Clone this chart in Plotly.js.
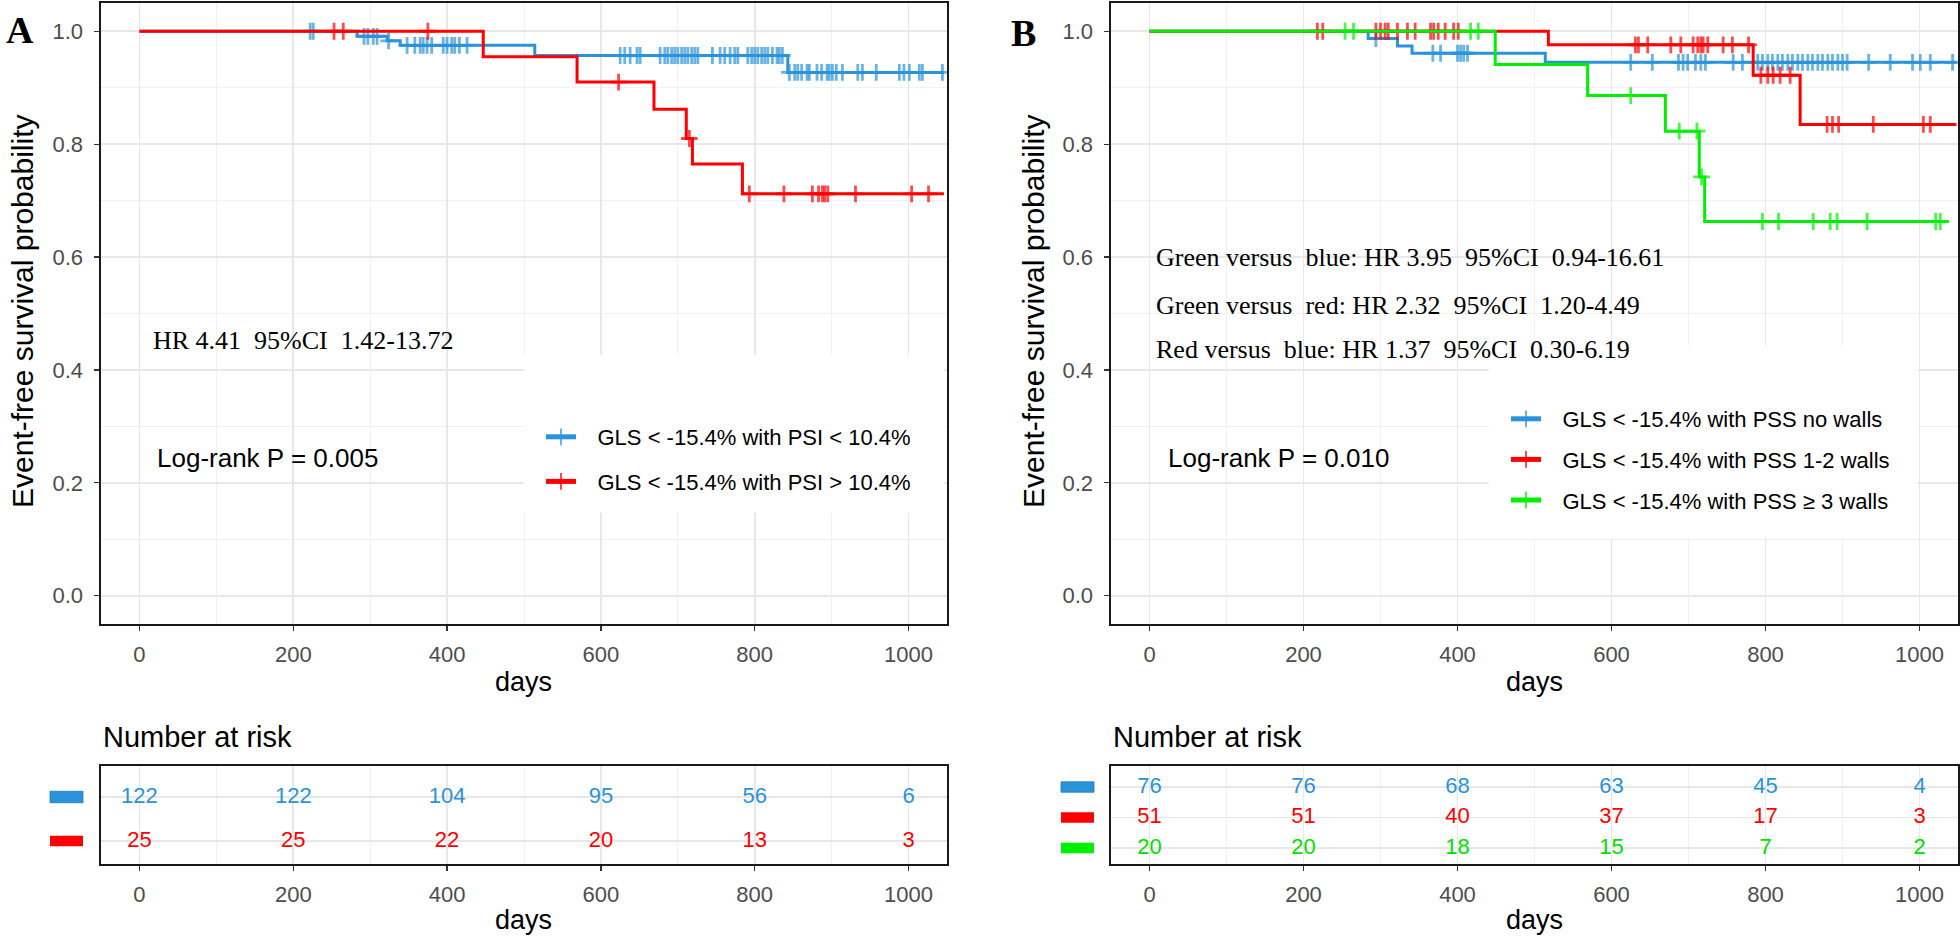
<!DOCTYPE html>
<html>
<head>
<meta charset="utf-8">
<script src="https://cdn.plot.ly/plotly-3.0.1.min.js"></script>
<style>html,body{margin:0;padding:0;background:#fff;}#chart{width:1960px;height:938px;}</style>
</head>
<body>
<div id="chart"></div>
<script>
// ---------------- DATA ----------------
// Panel A : GLS < -15.4% with PSI < 10.4% (blue)  /  PSI > 10.4% (red)
const A_blue_name = "GLS < -15.4% with PSI < 10.4%";
const A_blue_stepDays = [283, 322, 339, 514, 843];
const A_blue_stepSurv = [0.991, 0.983, 0.975, 0.957, 0.927];
const A_blue_censDays = [222, 226, 292, 297, 304, 309, 324, 348, 358, 365, 369, 374, 380, 395, 400, 406, 410, 416, 426,
  625, 631, 638, 647, 651, 677, 683, 687, 692, 696, 700, 705, 709, 713, 718, 722, 726, 745, 755, 761, 768, 774, 778,
  791, 796, 800, 804, 809, 813, 817, 823, 829, 832, 836,
  845, 852, 856, 861, 868, 871, 881, 887, 894, 897, 901, 906, 914, 934, 940, 958, 988, 994, 1001, 1014, 1018, 1044];
const A_blue_endDay = 1046;

const A_red_name = "GLS < -15.4% with PSI > 10.4%";
const A_red_stepDays = [447, 569, 669, 711, 719, 784];
const A_red_stepSurv = [0.955, 0.910, 0.862, 0.810, 0.765, 0.712];
const A_red_censDays = [253, 265, 375, 623, 715, 793, 838, 875, 883, 888, 891, 895, 931, 1004, 1026];
const A_red_endDay = 1046;

// Panel B : PSS no walls (blue) / 1-2 walls (red) / >= 3 walls (green)
const B_blue_name = "GLS < -15.4% with PSS no walls";
const B_blue_stepDays = [284, 322, 341, 514];
const B_blue_stepSurv = [0.987, 0.974, 0.961, 0.945];
const B_blue_censDays = [294, 368, 378, 400, 404, 408, 413,
  625, 653, 687, 693, 699, 709, 716, 722, 758, 770, 790, 796, 803, 809, 816, 822, 829, 835, 842, 848, 855, 861, 868,
  874, 881, 887, 894, 900, 906, 934, 962, 991, 1001, 1014, 1043];
const B_blue_endDay = 1048;

const B_red_name = "GLS < -15.4% with PSS 1-2 walls";
const B_red_stepDays = [518, 784, 845];
const B_red_stepSurv = [0.976, 0.922, 0.835];
const B_red_censDays = [218, 225, 294, 300, 306, 310, 322, 335, 345, 365, 369, 375, 384, 395, 401,
  631, 635, 647, 677, 690, 706, 712, 716, 719, 725, 745, 757, 778,
  794, 803, 810, 819, 832, 880, 887, 895, 940, 1005, 1014];
const B_red_endDay = 1048;

const B_green_name = "GLS < -15.4% with PSS \u2265 3 walls";
const B_green_stepDays = [449, 569, 670, 714, 721];
const B_green_stepSurv = [0.941, 0.886, 0.823, 0.742, 0.663];
const B_green_censDays = [254, 265, 417, 427, 625, 688, 711, 717, 796, 817, 862, 884, 893, 932, 1021, 1027];
const B_green_endDay = 1038;

// Number at risk
const riskDays = [0, 200, 400, 600, 800, 1000];
const A_risk_blue = [122, 122, 104, 95, 56, 6];
const A_risk_red = [25, 25, 22, 20, 13, 3];
const B_risk_blue = [76, 76, 68, 63, 45, 4];
const B_risk_red = [51, 51, 40, 37, 17, 3];
const B_risk_green = [20, 20, 18, 15, 7, 2];

const A_rows = ["PSI > 10.4%", "PSI < 10.4%"];                      // bottom -> top
const B_rows = ["PSS >= 3 walls", "PSS 1-2 walls", "PSS no walls"];  // bottom -> top

const A_hr_text = "HR 4.41\u00a0 95%CI\u00a0 1.42-13.72";
const A_p_text = "Log-rank P = 0.005";
const B_hr_texts = ["Green versus\u00a0 blue: HR 3.95\u00a0 95%CI\u00a0 0.94-16.61",
                    "Green versus\u00a0 red: HR 2.32\u00a0 95%CI\u00a0 1.20-4.49",
                    "Red versus\u00a0 blue: HR 1.37\u00a0 95%CI\u00a0 0.30-6.19"];
const B_p_text = "Log-rank P = 0.010";

const yTitle = "Event-free survival probability";
const xTitle = "days";

// ---------------- STYLE ----------------
const BLUE = "#2A93DB", RED = "#FF0000", GREEN = "#00F000";
const SANS = "Liberation Sans, Arial, Helvetica, sans-serif";
const SERIF = "Liberation Serif, Times New Roman, serif";
const W = 1960, H = 938;
const XR = [-50, 1050], YR = [-0.05, 1.05];
const px = v => v / W;            // x pixel -> paper
const py = v => 1 - v / H;        // y pixel -> paper

function kmCurve(stepDays, stepSurv, censDays, endDay) {
  const pts = [{t: 0, s: 1, c: 0, k: 0}];
  stepDays.forEach((t, i) => pts.push({t: t, s: stepSurv[i], c: 0, k: 0}));
  censDays.forEach(t => pts.push({t: t, s: null, c: 1, k: 1}));
  pts.push({t: endDay, s: null, c: 0, k: 2});
  pts.sort((a, b) => (a.t - b.t) || (a.k - b.k));
  let cur = 1;
  pts.forEach(p => { if (p.s === null) p.s = cur; else cur = p.s; });
  return {x: pts.map(p => p.t), y: pts.map(p => p.s), size: pts.map(p => p.c ? 12 : 0)};
}

function kmTrace(name, color, stepDays, stepSurv, censDays, endDay, xa, ya, legend) {
  const c = kmCurve(stepDays, stepSurv, censDays, endDay);
  return {
    type: "scatter", mode: "lines+markers", name: "\u2002\u2005" + name,
    x: c.x, y: c.y, xaxis: xa, yaxis: ya, legend: legend, legendgroup: name,
    line: {color: color, width: 3, shape: "hv"},
    marker: {symbol: "cross-thin", size: c.size, color: color, line: {color: color, width: 2.8}},
    hoverinfo: "skip"
  };
}

function riskTrace(values, row, color, xa, ya) {
  return {
    type: "scatter", mode: "text", x: riskDays, y: riskDays.map(() => row),
    text: values.map(String), textposition: "middle center",
    textfont: {family: SANS, size: 22, color: color},
    xaxis: xa, yaxis: ya, showlegend: false, hoverinfo: "skip"
  };
}

const traces = [
  kmTrace(A_blue_name, BLUE, A_blue_stepDays, A_blue_stepSurv, A_blue_censDays, A_blue_endDay, "x", "y", "legend"),
  kmTrace(A_red_name, RED, A_red_stepDays, A_red_stepSurv, A_red_censDays, A_red_endDay, "x", "y", "legend"),
  kmTrace(B_blue_name, BLUE, B_blue_stepDays, B_blue_stepSurv, B_blue_censDays, B_blue_endDay, "x2", "y2", "legend2"),
  kmTrace(B_red_name, RED, B_red_stepDays, B_red_stepSurv, B_red_censDays, B_red_endDay, "x2", "y2", "legend2"),
  kmTrace(B_green_name, GREEN, B_green_stepDays, B_green_stepSurv, B_green_censDays, B_green_endDay, "x2", "y2", "legend2"),
  riskTrace(A_risk_blue, A_rows[1], BLUE, "x3", "y3"),
  riskTrace(A_risk_red, A_rows[0], RED, "x3", "y3"),
  riskTrace(B_risk_blue, B_rows[2], BLUE, "x4", "y4"),
  riskTrace(B_risk_red, B_rows[1], RED, "x4", "y4"),
  riskTrace(B_risk_green, B_rows[0], "#00E000", "x4", "y4")
];

const gridMajor = "#e8e8e8", gridMinor = "#f1f1f1";
function xAxis(domain, anchor) {
  return {
    domain: domain, anchor: anchor, range: XR, tick0: 0, dtick: 200,
    showline: true, mirror: true, linecolor: "#1a1a1a", linewidth: 1.6,
    showgrid: true, gridcolor: gridMajor, gridwidth: 1.6, zeroline: false,
    ticks: "outside", ticklen: 5, tickwidth: 1.2, tickcolor: "#333",
    ticklabelstandoff: 5,
    tickfont: {family: SANS, size: 22, color: "#4d4d4d"},
    minor: {dtick: 100, tick0: 0, showgrid: true, gridcolor: gridMinor, gridwidth: 1, ticks: ""}
  };
}
function yMain(domain, anchor) {
  return {
    domain: domain, anchor: anchor, range: YR, tick0: 0, dtick: 0.2, tickformat: ".1f",
    showline: true, mirror: true, linecolor: "#1a1a1a", linewidth: 1.6,
    showgrid: true, gridcolor: gridMajor, gridwidth: 1.6, zeroline: false,
    ticks: "outside", ticklen: 5, tickwidth: 1.2, tickcolor: "#333",
    ticklabelstandoff: 7,
    tickfont: {family: SANS, size: 22, color: "#4d4d4d"},
    minor: {dtick: 0.1, tick0: 0, showgrid: true, gridcolor: gridMinor, gridwidth: 1, ticks: ""}
  };
}
function yRisk(domain, anchor, cats, range) {
  return {
    domain: domain, anchor: anchor, type: "category", categoryorder: "array", categoryarray: cats,
    range: range, showticklabels: false, ticks: "",
    showline: true, mirror: true, linecolor: "#1a1a1a", linewidth: 1.6,
    showgrid: true, gridcolor: gridMajor, gridwidth: 1.6, zeroline: false
  };
}

const mainY = [py(624), py(3)];
const riskY = [py(864), py(766)];
const domA = [px(101), px(947)];
const domB = [px(1111), px(1958)];

const annotations = [];
function ann(text, x, y, opts) {
  annotations.push(Object.assign({text: text, x: x, y: y, xref: "paper", yref: "paper", showarrow: false,
    xanchor: "center", yanchor: "middle", font: {family: SANS, size: 26, color: "#000"}}, opts || {}));
}
// Panel letters
ann("A", px(20), py(30), {font: {family: SERIF, size: 38, color: "#000", weight: "bold"}});
ann("B", px(1023), py(33), {font: {family: SERIF, size: 38, color: "#000", weight: "bold"}});
// y titles
ann(yTitle, px(22), py(311), {textangle: -90, font: {family: SANS, size: 30, color: "#000"}});
ann(yTitle, px(1033), py(311), {textangle: -90, font: {family: SANS, size: 30, color: "#000"}});
// x titles
ann(xTitle, px(523), py(682), {font: {family: SANS, size: 27, color: "#000"}});
ann(xTitle, px(1534), py(682), {font: {family: SANS, size: 27, color: "#000"}});
ann(xTitle, px(523), py(920), {font: {family: SANS, size: 27, color: "#000"}});
ann(xTitle, px(1534), py(920), {font: {family: SANS, size: 27, color: "#000"}});
// Number at risk
ann("Number at risk", px(101), py(737), {xanchor: "left", font: {family: SANS, size: 29, color: "#000"}});
ann("Number at risk", px(1111), py(737), {xanchor: "left", font: {family: SANS, size: 29, color: "#000"}});
// statistics text
ann(A_hr_text, px(151), py(340), {xanchor: "left", font: {family: SERIF, size: 26, color: "#000"}});
ann(A_p_text, px(155), py(458), {xanchor: "left", font: {family: SANS, size: 26, color: "#000"}});
const bHrY = [258, 305, 350];
B_hr_texts.forEach((t, i) => ann(t, px(1154), py(bHrY[i]), {xanchor: "left", font: {family: SERIF, size: 26, color: "#000"}}));
ann(B_p_text, px(1166), py(458), {xanchor: "left", font: {family: SANS, size: 26, color: "#000"}});

// fractions of the plot area -> axis values (for the white legend backdrops)
const fx = f => XR[0] + f * (XR[1] - XR[0]);
const fy = f => YR[0] + f * (YR[1] - YR[0]);

const shapes = [
  {type: "rect", xref: "x", yref: "y", x0: fx(0.5), x1: fx(0.997), y0: fy(0.179), y1: fy(0.433),
   fillcolor: "#fff", line: {width: 0}, layer: "between"},
  {type: "rect", xref: "x2", yref: "y2", x0: fx(0.446), x1: fx(0.952), y0: fy(0.139), y1: fy(0.448),
   fillcolor: "#fff", line: {width: 0}, layer: "between"},
  // risk table colour keys
  {type: "rect", xref: "paper", yref: "y3", x0: px(50), x1: px(83), y0: 1 - 0.13, y1: 1 + 0.13, fillcolor: BLUE, line: {width: 0.8, color: "#1f78b4"}},
  {type: "rect", xref: "paper", yref: "y3", x0: px(50), x1: px(83), y0: -0.12, y1: 0.12, fillcolor: RED, line: {width: 0}},
  {type: "rect", xref: "paper", yref: "y4", x0: px(1061), x1: px(1094), y0: 2 - 0.17, y1: 2 + 0.17, fillcolor: BLUE, line: {width: 0.8, color: "#1f78b4"}},
  {type: "rect", xref: "paper", yref: "y4", x0: px(1061), x1: px(1094), y0: 1 - 0.17, y1: 1 + 0.17, fillcolor: RED, line: {width: 0}},
  {type: "rect", xref: "paper", yref: "y4", x0: px(1061), x1: px(1094), y0: -0.17, y1: 0.17, fillcolor: "#00F000", line: {width: 0}}
];

const layout = {
  width: W, height: H, margin: {l: 0, r: 0, t: 0, b: 0},
  paper_bgcolor: "#fff", plot_bgcolor: "#fff",
  font: {family: SANS, color: "#000"},
  xaxis: xAxis(domA, "y"), yaxis: yMain(mainY, "x"),
  xaxis2: xAxis(domB, "y2"), yaxis2: yMain(mainY, "x2"),
  xaxis3: xAxis(domA, "y3"), yaxis3: yRisk(riskY, "x3", A_rows, [-0.523, 1.705]),
  xaxis4: xAxis(domB, "y4"), yaxis4: yRisk(riskY, "x4", B_rows, [-0.525, 2.69]),
  legend: {x: px(541), y: py(416), xanchor: "left", yanchor: "top", bgcolor: "rgba(0,0,0,0)",
           borderwidth: 0, itemsizing: "constant", tracegroupgap: 13,
           font: {family: SANS, size: 22, color: "#000"}},
  legend2: {x: px(1506), y: py(398), xanchor: "left", yanchor: "top", bgcolor: "rgba(0,0,0,0)",
           borderwidth: 0, itemsizing: "constant", tracegroupgap: 9,
           font: {family: SANS, size: 22, color: "#000"}},
  annotations: annotations, shapes: shapes, showlegend: true
};

Plotly.newPlot("chart", traces, layout, {displayModeBar: false, staticPlot: true});
</script>
</body>
</html>
